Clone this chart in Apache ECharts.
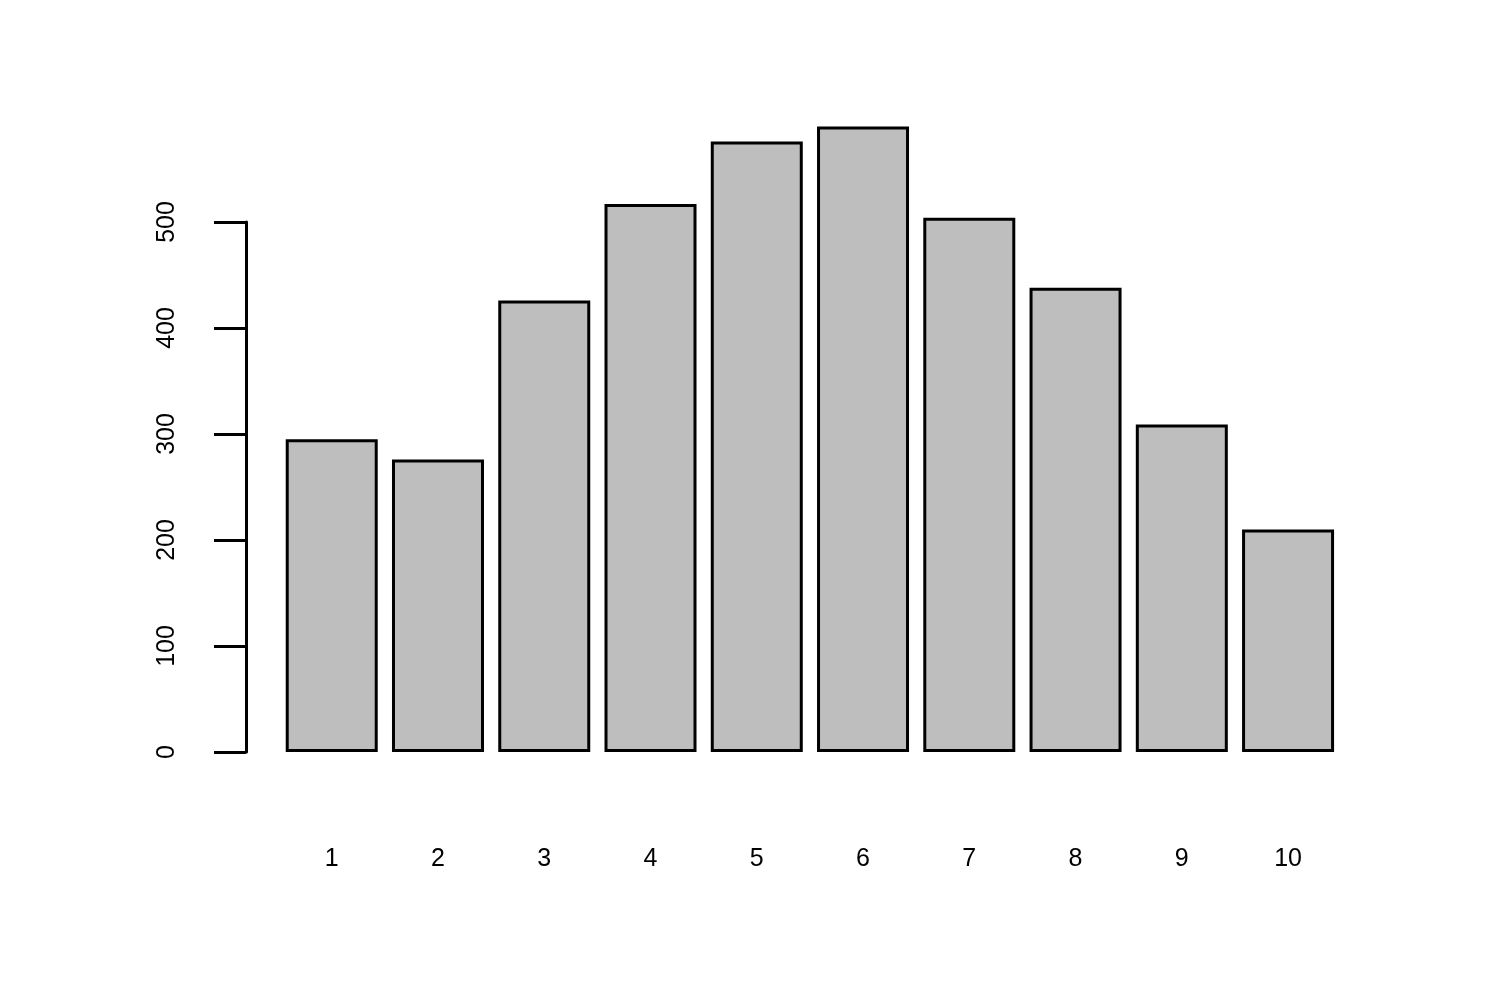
<!DOCTYPE html>
<html>
<head>
<meta charset="utf-8">
<script src="https://cdn.jsdelivr.net/npm/echarts@6/dist/echarts.min.js"></script>
<style>
html,body{margin:0;padding:0;background:#fff;}
#chart{width:1500px;height:1005px;}
</style>
</head>
<body>
<div id="chart"></div>
<script>
const categories = ['1','2','3','4','5','6','7','8','9','10'];
const values = [295, 276, 426, 517, 576, 590, 504, 438, 309, 210];
const yTicks = [0, 100, 200, 300, 400, 500];

const chart = echarts.init(document.getElementById('chart'), null, {renderer: 'canvas'});
chart.setOption({
  animation: false,
  backgroundColor: '#ffffff',
  grid: {left: 278.6, right: 158.8, top: 222, bottom: 253, containLabel: false},
  xAxis: {
    type: 'category',
    data: categories,
    axisLine: {show: false},
    axisTick: {show: false},
    splitLine: {show: false},
    axisLabel: {
      margin: 95,
      fontFamily: 'Liberation Sans, Arial, sans-serif',
      fontSize: 25,
      color: '#000'
    }
  },
  yAxis: {
    type: 'value',
    min: yTicks[0],
    max: yTicks[yTicks.length - 1],
    interval: 100,
    offset: 32.6,
    splitLine: {show: false},
    axisLine: {show: true, lineStyle: {color: '#000', width: 3}},
    axisTick: {show: true, length: 32, lineStyle: {color: '#000', width: 3}},
    axisLabel: {
      rotate: 90,
      margin: 66,
      fontFamily: 'Liberation Sans, Arial, sans-serif',
      fontSize: 25,
      color: '#000'
    }
  },
  series: [{
    type: 'bar',
    data: values,
    barWidth: 92,
    clip: false,
    itemStyle: {color: '#BEBEBE', borderColor: '#000', borderWidth: 3}
  }]
});
</script>
</body>
</html>
